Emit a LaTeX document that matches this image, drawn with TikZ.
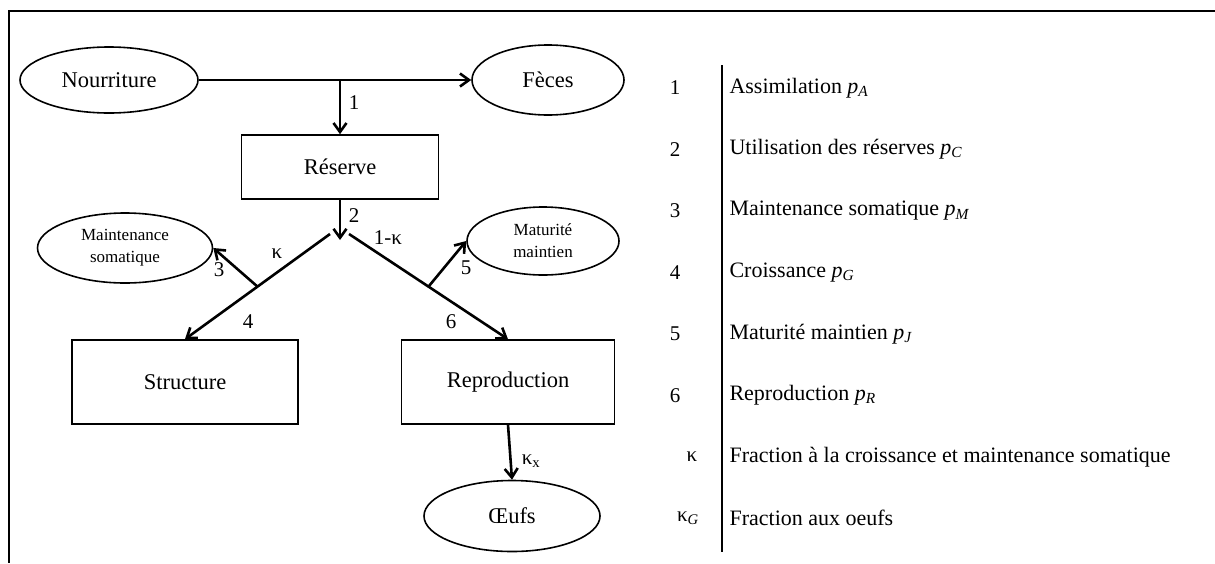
\documentclass[tikz,border=0pt]{standalone}
\usepackage{fontspec}
\setmainfont{Liberation Serif}
\usetikzlibrary{arrows.meta,positioning,shapes.geometric,calc}
\newcommand{\pflux}[1]{\textit{p}\textsubscript{\textit{#1}}}
\tikzset{
    every picture/.style={x=1pt,y=-1pt,>={Straight Barb[length=9pt,width=13pt]}},
    % compartments
    stock/.style={rectangle,draw,line width=1.6pt,inner sep=0pt,font=\fontsize{22.5}{26}\selectfont},
    pool/.style={ellipse,draw,line width=1.6pt,inner sep=0pt,align=center,font=\fontsize{22.5}{26}\selectfont},
    smallpool/.style={pool,font=\fontsize{17}{22}\selectfont},
    % fluxes
    flux/.style={->,line width=2.6pt},
    numlbl/.style={font=\fontsize{21}{24}\selectfont},
    legtext/.style={anchor=west,font=\fontsize{22}{26}\selectfont},
    frameline/.style={line width=2.4pt}
}
\begin{document}
\begin{tikzpicture}
  \useasboundingbox (0,0) rectangle (1215,563);
  % frame
  \coordinate (tl) at (9,11);
  \coordinate (tr) at (1215,11);
  \coordinate (bl) at (9,563);
  \draw[frameline] (tr) -- (tl) -- (bl);

  % compartments
  \node[pool,minimum width=178pt,minimum height=66pt] (food) at (109,80) {Nourriture};
  \node[pool,minimum width=152pt,minimum height=70pt] (feces) at (548,80) {Fèces};
  \node[stock,minimum width=197pt,minimum height=64pt] (res) at (340,167) {Réserve};
  \node[smallpool,minimum width=175pt,minimum height=70pt] (maint) at (125,248) {Maintenance\\somatique};
  \node[smallpool,minimum width=152pt,minimum height=68pt] (matu) at (543,241) {Maturité\\maintien};
  \node[stock,minimum width=226pt,minimum height=84pt] (struct) at (185,382) {Structure};
  \node[stock,minimum width=213pt,minimum height=84pt] (repro) at (508,382) {Reproduction};
  \node[pool,minimum width=176pt,minimum height=71pt] (eggs) at (512,516) {Œufs};

  % split points
  \coordinate (j1) at (340,80);
  \coordinate (sp) at (340,240);
  \coordinate (vl) at (330,234);
  \coordinate (vr) at (349,234);
  \coordinate (b3) at ($(vl)!0.5!(struct.north)$);
  \coordinate (b5) at ($(vr)!0.5!(repro.north)$);

  % fluxes
  \draw[flux] (food) -- (feces);
  \draw[flux] (j1) -- (res.north);
  \draw[flux] (res.south) -- (sp);
  \draw[flux] (vl) -- (struct.north);
  \draw[flux] (vr) -- (repro.north);
  \draw[flux] (b3) -- (maint.east);
  \draw[flux] (b5) -- (matu.west);
  \draw[flux] (repro.south) -- (eggs.north);

  % flux labels
  \node[numlbl] (l1) at (354,103) {1};
  \node[numlbl] (l2) at (354,216) {2};
  \node[numlbl] (lk) at (277,254) {κ};
  \node[numlbl] (lk1) at (388,238) {1-κ};
  \node[numlbl] (l3) at (219,270) {3};
  \node[numlbl] (l5) at (466,268) {5};
  \node[numlbl] (l4) at (248,322) {4};
  \node[numlbl] (l6) at (451,322) {6};
  \node[numlbl] (lkx) at (531,461) {κ\textsubscript{x}};

  % legend
  \coordinate (lt) at (722,65);
  \coordinate (lb) at (722,552);
  \draw[line width=1.5pt] (lt) -- (lb);
  \foreach \n/\t [count=\i from 0] in {1/Assimilation \pflux{A},
      2/Utilisation des réserves \pflux{C},
      3/Maintenance somatique \pflux{M},
      4/Croissance \pflux{G},
      5/Maturité maintien \pflux{J},
      6/Reproduction \pflux{R}} {
    \node[numlbl] (n\n) at (675,88+61.5*\i) {\n};
    \node[legtext] (t\n) at (726,88+61.5*\i) {\t};
  }
  \node[numlbl] (nk) at (692,457) {κ};
  \node[legtext] (tk) at (726,457) {Fraction à la croissance et maintenance somatique};
  \node[numlbl] (nkg) at (688,518) {κ\textsubscript{\textit{G}}};
  \node[legtext] (tkg) at (726,518) {Fraction aux oeufs};
\end{tikzpicture}
\end{document}
